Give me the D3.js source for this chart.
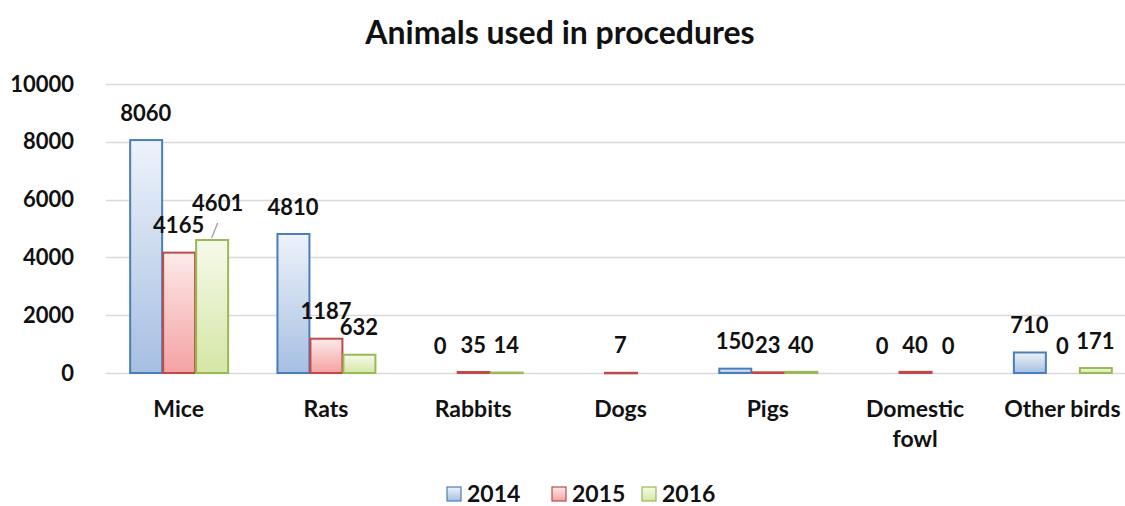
<!DOCTYPE html>
<html>
<head>
<meta charset="utf-8">
<script src="https://cdn.jsdelivr.net/npm/d3@7"></script>
<style>
  html, body { margin: 0; padding: 0; background: #fff; }
  svg text { font-family: Lato, "Open Sans", sans-serif; font-weight: bold; fill: #111; }
</style>
</head>
<body>
<div id="chart"></div>
<script>
// data
var categories = ["Mice", "Rats", "Rabbits", "Dogs", "Pigs", "Domestic fowl", "Other birds"];
var years = ["2014", "2015", "2016"];
var values2014 = [8060, 4810, 0, null, 150, 0, 710];
var values2015 = [4165, 1187, 35, 7, 23, 40, 0];
var values2016 = [4601, 632, 14, null, 40, 0, 171];
var yTicks = [0, 2000, 4000, 6000, 8000, 10000];

var seriesValues = [values2014, values2015, values2016];

// style
var colors = [
  {top: "#eef3fa", bottom: "#a6bfe2", stroke: "#4a7ebb"},
  {top: "#fdeaea", bottom: "#f4a2a2", stroke: "#be4b48"},
  {top: "#f6faea", bottom: "#d5e6a6", stroke: "#98b954"}
];

var tot_width = 1125, tot_height = 506;
var margin = {top: 84, left: 105, bottom: 133, right: -11};
var width = tot_width - margin.left - margin.right,
    height = tot_height - margin.top - margin.bottom;

var svg = d3.select("#chart").append("svg")
    .attr("width", tot_width).attr("height", tot_height);

var defs = svg.append("defs");
colors.forEach(function(c, i) {
  var grad = defs.append("linearGradient")
    .attr("id", "grad" + i)
    .attr("x1", 0).attr("y1", 0).attr("x2", 0).attr("y2", 1);
  grad.append("stop").attr("offset", "0%").attr("stop-color", c.top);
  grad.append("stop").attr("offset", "100%").attr("stop-color", c.bottom);
});

// title
svg.append("text")
  .attr("x", 560).attr("y", 44)
  .attr("text-anchor", "middle")
  .style("font-size", "32px")
  .text("Animals used in procedures");

var g = svg.append("g")
  .attr("transform", "translate(" + margin.left + "," + margin.top + ")");

var y = d3.scaleLinear().domain([0, 10000]).range([height, 0]);

var x0 = d3.scaleBand()
  .domain(categories)
  .range([0, width])
  .paddingInner(0.328)
  .paddingOuter(0.164);

var x1 = d3.scaleBand()
  .domain(years)
  .range([0, x0.bandwidth()]);

// grid lines
g.selectAll("line.grid")
  .data(yTicks)
  .enter().append("line")
    .attr("class", "grid")
    .attr("x1", 1).attr("x2", tot_width)
    .attr("y1", function(d) { return Math.round(y(d)) + 0.5; })
    .attr("y2", function(d) { return Math.round(y(d)) + 0.5; })
    .attr("stroke", "#d9d9d9")
    .attr("stroke-width", 1.5);

// y axis labels
var yAxis = g.append("g")
  .attr("class", "y-axis")
  .call(d3.axisLeft(y).tickValues(yTicks).tickFormat(d3.format("d")).tickSize(0).tickPadding(31));
yAxis.select(".domain").remove();
yAxis.selectAll("text")
  .style("font-size", "22px")
  .style("font-family", "Lato, sans-serif")
  .attr("fill", "#111");

// flatten data
var points = [];
categories.forEach(function(cat, ci) {
  years.forEach(function(yr, si) {
    var v = seriesValues[si][ci];
    if (v !== null) points.push({cat: cat, year: yr, s: si, value: v});
  });
});

// bars
g.selectAll("rect.bar")
  .data(points.filter(function(d) { return d.value > 0; }))
  .enter().append("rect")
    .attr("class", "bar")
    .attr("x", function(d) { return x0(d.cat) + x1(d.year) + 1; })
    .attr("width", x1.bandwidth() - 1)
    .attr("y", function(d) { return y(d.value); })
    .attr("height", function(d) { return Math.max(0.5, height - y(d.value)); })
    .attr("fill", function(d) { return "url(#grad" + d.s + ")"; })
    .attr("stroke", function(d) { return colors[d.s].stroke; })
    .attr("stroke-width", 2);

// value labels, one nudged with a leader line
var nudge = {"Mice|2016": {dx: 6, dy: -10}};
g.selectAll("text.value")
  .data(points)
  .enter().append("text")
    .attr("class", "value")
    .attr("text-anchor", "middle")
    .attr("dy", "0.35em")
    .style("font-size", "22px")
    .attr("x", function(d) {
      var n = nudge[d.cat + "|" + d.year];
      return x0(d.cat) + x1(d.year) + x1.bandwidth() / 2 + (n ? n.dx : 0);
    })
    .attr("y", function(d) {
      var n = nudge[d.cat + "|" + d.year];
      return y(d.value) - 27 + (n ? n.dy : 0);
    })
    .text(function(d) { return d.value; });

points.filter(function(d) { return nudge[d.cat + "|" + d.year]; }).forEach(function(d) {
  var cx = x0(d.cat) + x1(d.year) + x1.bandwidth() / 2;
  g.append("line")
    .attr("x1", cx).attr("y1", y(d.value) - 2)
    .attr("x2", cx + 6).attr("y2", y(d.value) - 17)
    .attr("stroke", "#999").attr("stroke-width", 1.2);
});

// category labels
var xAxis = g.append("g")
  .attr("class", "x-axis")
  .attr("transform", "translate(0," + height + ")");
categories.forEach(function(cat) {
  var words = cat === "Domestic fowl" ? ["Domestic", "fowl"] : [cat];
  var t = xAxis.append("text")
    .attr("text-anchor", "middle")
    .style("font-size", "23px")
    .attr("x", x0(cat) + x0.bandwidth() / 2)
    .attr("y", 44);
  words.forEach(function(w, i) {
    t.append("tspan")
      .attr("x", x0(cat) + x0.bandwidth() / 2)
      .attr("dy", i === 0 ? 0 : 30)
      .text(w);
  });
});

// legend
var legendX = [447, 552, 642];
var legend = svg.append("g").attr("class", "legend");
years.forEach(function(yr, i) {
  legend.append("rect")
    .attr("x", legendX[i]).attr("y", 487)
    .attr("width", 14).attr("height", 14)
    .attr("fill", "url(#grad" + i + ")")
    .attr("stroke", colors[i].stroke)
    .attr("stroke-width", 1.2);
  legend.append("text")
    .attr("x", legendX[i] + 20).attr("y", 502)
    .style("font-size", "23px")
    .text(yr);
});
</script>
</body>
</html>
